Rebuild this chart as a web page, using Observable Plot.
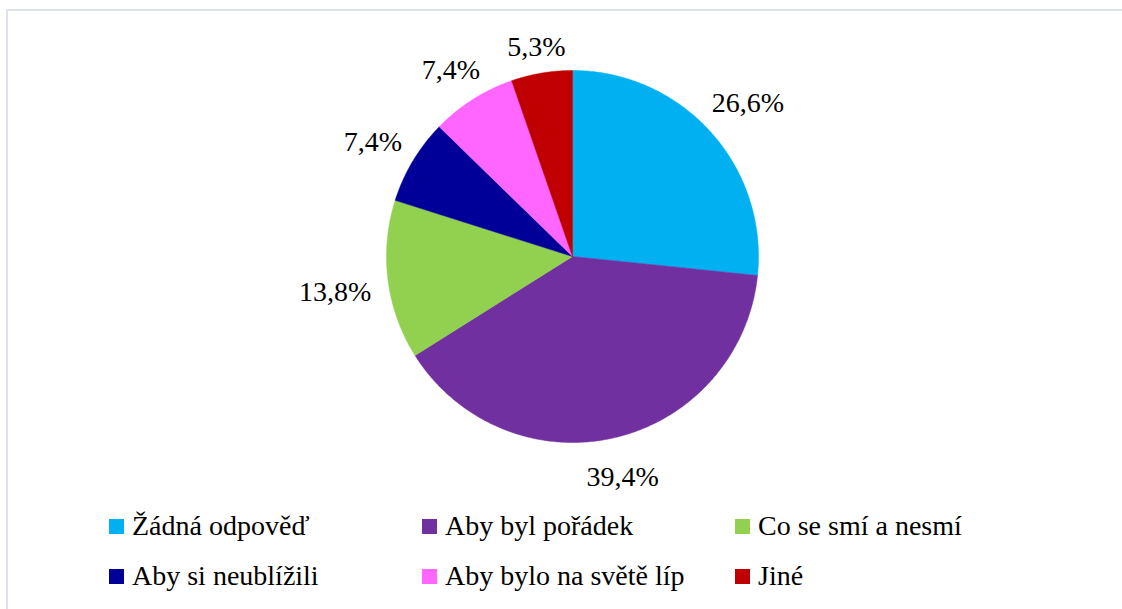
<!DOCTYPE html>
<html>
<head>
<meta charset="utf-8">
<script src="https://cdn.jsdelivr.net/npm/d3@7"></script>
<script src="https://cdn.jsdelivr.net/npm/@observablehq/plot@0.6"></script>
<style>
  html, body { margin: 0; padding: 0; background: #fff; overflow: hidden; }
  #page { position: relative; width: 1122px; height: 609px; font-family: "Liberation Serif", "Tinos", "Times New Roman", "DejaVu Serif", serif; }
  #frame { position: absolute; left: 6px; top: 9px; width: 1130px; height: 620px; border: 2px solid #dde1e9; box-sizing: border-box; }
  #chart { position: absolute; left: 0; top: 0; }
  #legend { position: absolute; left: 109px; top: 511px; display: grid; grid-template-columns: 313px 313px 313px; row-gap: 20px; }
  .item { display: flex; align-items: center; height: 30px; font-size: 28px; color: #000; white-space: nowrap; }
  .sw { width: 15px; height: 15px; margin-right: 8px; flex: none; }
</style>
</head>
<body>
<div id="page">
  <div id="frame"></div>
  <div id="chart"></div>
  <div id="legend"></div>
</div>
<script>
const categories = ["Žádná odpověď", "Aby byl pořádek", "Co se smí a nesmí", "Aby si neublížili", "Aby bylo na světě líp", "Jiné"];
const values = [26.6, 39.4, 13.8, 7.4, 7.4, 5.3];
const valueLabels = ["26,6%", "39,4%", "13,8%", "7,4%", "7,4%", "5,3%"];
const colors = ["#00B0F0", "#7030A0", "#92D050", "#000099", "#FF66FF", "#C00000"];

const R = 186;          // pie radius in px
const FAMILY = "'Liberation Serif', 'Tinos', 'Times New Roman', 'DejaVu Serif', serif";
const FS = 28;
const FONT = FS + "px " + FAMILY;
const pie = d3.pie().sort(null).value(d => d)(values);

const slices = pie.map((p, i) => {
  const n = Math.max(8, Math.ceil((p.endAngle - p.startAngle) / 0.01));
  const pts = [{x: 0, y: 0}];
  for (let k = 0; k <= n; k++) {
    const a = p.startAngle + (p.endAngle - p.startAngle) * k / n;
    pts.push({x: R * Math.sin(a), y: R * Math.cos(a)});
  }
  pts.push({x: 0, y: 0});
  return pts;
});

const ctx = document.createElement("canvas").getContext("2d");
ctx.font = FONT;
const labelData = pie.map((p, i) => {
  const a = (p.startAngle + p.endAngle) / 2;
  const hw = ctx.measureText(valueLabels[i]).width / 2;
  const hh = 11;
  const s = Math.sin(a), c = Math.cos(a);
  const d = R + 16 + hw * Math.abs(s) + hh * Math.abs(c);
  return {x: d * s, y: d * c, text: valueLabels[i]};
});

const marks = slices.map((pts, i) =>
  Plot.line(pts, {x: "x", y: "y", fill: colors[i], stroke: colors[i], strokeWidth: 0.5, curve: "linear"})
);
marks.push(Plot.text(labelData, {x: "x", y: "y", text: "text", dy: 5, fontSize: FS, fontFamily: FAMILY, fill: "#000"}));

const W = 1122, H = 505, CX = 572, CY = 256;
const chart = Plot.plot({
  width: W,
  height: H,
  margin: 0,
  x: {domain: [-CX, W - CX], range: [0, W], axis: null},
  y: {domain: [-(H - CY), CY], range: [H, 0], axis: null},
  style: {background: "transparent", overflow: "visible", fontFamily: FAMILY},
  marks
});
document.getElementById("chart").appendChild(chart);

const legend = document.getElementById("legend");
categories.forEach((c, i) => {
  const item = document.createElement("div");
  item.className = "item";
  const sw = document.createElement("span");
  sw.className = "sw";
  sw.style.background = colors[i];
  const t = document.createElement("span");
  t.textContent = c;
  item.appendChild(sw);
  item.appendChild(t);
  legend.appendChild(item);
});
</script>
</body>
</html>
